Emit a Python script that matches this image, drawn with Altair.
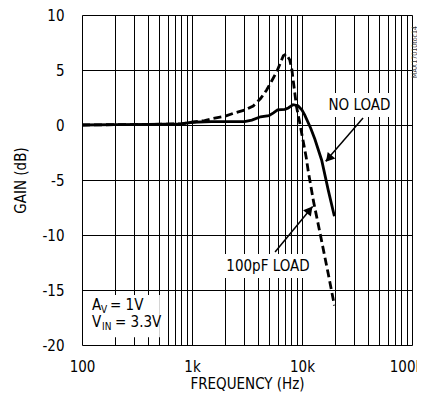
import altair as alt
import pandas as pd

# ---- data ----
freq_noload = [100, 200, 400, 800, 1000, 1500, 2000, 3000, 3500, 4200, 5000, 5500,
               6000, 7000, 7500, 8300, 9200, 10000, 10600, 12000, 13100, 15100, 17300, 19700]
gain_noload = [0.0, 0.03, 0.05, 0.1, 0.25, 0.3, 0.3, 0.3, 0.45, 0.75, 0.85, 1.1,
               1.38, 1.42, 1.55, 1.85, 1.75, 1.35, 0.9, -0.3, -1.3, -3.2, -5.9, -8.3]

freq_100pf = [100, 200, 400, 800, 1000, 1300, 1560, 2000, 2380, 3000, 3600, 4200, 4770,
              5300, 5900, 6400, 6770, 7160, 7750, 8100, 8600, 8900, 9500, 10000, 10900,
              11400, 12700, 14600, 17300, 19700]
gain_100pf = [0.0, 0.03, 0.05, 0.1, 0.25, 0.4, 0.6, 0.8, 1.06, 1.35, 1.73, 2.4, 3.18,
              4.0, 4.85, 5.7, 6.3, 6.45, 5.9, 5.0, 2.9, 1.7, 0.3, -0.9, -2.9,
              -4.2, -6.9, -9.85, -13.5, -16.4]

grid_freqs = [100, 200, 300, 400, 500, 600, 700, 800, 900,
              1000, 2000, 3000, 4000, 5000, 6000, 7000, 8000, 9000,
              10000, 20000, 30000, 40000, 50000, 60000, 70000, 80000, 90000, 100000]
gain_ticks = [-20, -15, -10, -5, 0, 5, 10]

# annotation labels
label_text = ["NO LOAD", "100pF LOAD"]
label_freq = [33300, 4910]
label_gain = [1.86, -12.82]

box_f1 = [16200, 1870, 105]
box_f2 = [70000, 12300, 510]
box_g1 = [2.9, -11.73, -15.45]
box_g2 = [0.73, -13.9, -19.3]

arrow_f1 = [35900, 5690]
arrow_g1 = [0.64, -11.55]
arrow_f2 = [16400, 12500]
arrow_g2 = [-3.3, -7.4]
head_f = [17500, 11750]
head_g = [-3.05, -7.72]
head_angle = [220, 39]

cond_text = ["A", "V", "= 1V", "V", "IN", "= 3.3V"]
cond_freq = [123.3, 148.8, 179.7, 123.3, 152.0, 199.6]
cond_gain = [-16.82, -17.09, -16.82, -18.36, -18.64, -18.36]
cond_size = [15, 10, 15, 15, 10, 15]

side_text = ["MAX17010toc14"]
side_freq = [106500]
side_gain = [6.64]

FONT = "DejaVu Sans Condensed"

xs = alt.Scale(type="log", domain=[100, 100000])
ys = alt.Scale(domain=[-20, 10])

xaxis = alt.Axis(
    values=grid_freqs,
    labelExpr="datum.value==100?'100':datum.value==1000?'1k':datum.value==10000?'10k':datum.value==100000?'100k':''",
    labelOffset={"condition": {"test": "datum.value == 100000", "value": -6}, "value": 0},
    title="FREQUENCY (Hz)", grid=True, ticks=False, domain=False,
    labelFontSize=15, labelPadding=14, labelOverlap=False, labelFlush=False,
    labelColor="black", titleColor="black", labelFont=FONT, titleFont=FONT,
    titleFontSize=15, titleFontWeight="normal", titleY=43, titleBaseline="alphabetic",
    gridColor="black", gridWidth=1, gridOpacity=1,
)
yaxis = alt.Axis(
    values=gain_ticks, labelExpr="'' + datum.value",
    title="GAIN (dB)", grid=True, ticks=False, domain=False,
    labelFontSize=15, labelPadding=18, labelOverlap=False, labelFlush=False,
    labelColor="black", titleColor="black", labelFont=FONT, titleFont=FONT,
    titleFontSize=15, titleFontWeight="normal", titleX=-62, titleY=165,
    titleAngle=270, titleAlign="center", titleBaseline="middle",
    gridColor="black", gridWidth=1, gridOpacity=1,
)

def X(f):
    return alt.X(f, type="quantitative", scale=xs, axis=xaxis)

def Y(f):
    return alt.Y(f, type="quantitative", scale=ys, axis=yaxis)

df_noload = pd.DataFrame({"f": freq_noload, "g": gain_noload})
df_100pf = pd.DataFrame({"f": freq_100pf, "g": gain_100pf})
df_box = pd.DataFrame({"f1": box_f1, "f2": box_f2, "g1": box_g1, "g2": box_g2})
df_lab = pd.DataFrame({"f": label_freq, "g": label_gain, "t": label_text})
df_arrow = pd.DataFrame({"f1": arrow_f1, "g1": arrow_g1, "f2": arrow_f2, "g2": arrow_g2})
df_head = pd.DataFrame({"f": head_f, "g": head_g, "a": head_angle})
df_cond = pd.DataFrame({"f": cond_freq, "g": cond_gain, "t": cond_text, "s": cond_size})
df_side = pd.DataFrame({"f": side_freq, "g": side_gain, "t": side_text})

boxes = alt.Chart(df_box).mark_rect(fill="white").encode(
    x=X("f1"), x2="f2", y=Y("g1"), y2="g2")

line_noload = alt.Chart(df_noload).mark_line(color="black", strokeWidth=2.8).encode(
    x=X("f"), y=Y("g"))
line_100pf = alt.Chart(df_100pf).mark_line(color="black", strokeWidth=2.8,
                                           strokeDash=[8, 4]).encode(x=X("f"), y=Y("g"))

labels = alt.Chart(df_lab).mark_text(font=FONT, fontSize=15, color="black",
                                     align="center", baseline="middle").encode(
    x=X("f"), y=Y("g"), text="t:N")

arrows = alt.Chart(df_arrow).mark_rule(color="black", strokeWidth=1.5).encode(
    x=X("f1"), y=Y("g1"), x2="f2", y2="g2")

heads = alt.Chart(df_head).mark_point(shape="triangle-up", filled=True, color="black",
                                      opacity=1, size=100).encode(
    x=X("f"), y=Y("g"), angle=alt.Angle("a:Q", scale=None))

cond = alt.Chart(df_cond).mark_text(font=FONT, color="black", align="left",
                                    baseline="alphabetic").encode(
    x=X("f"), y=Y("g"), text="t:N", size=alt.Size("s:Q", scale=None))

side = alt.Chart(df_side).mark_text(font=FONT, fontSize=7, color="#333333", angle=270,
                                    align="center", baseline="middle").encode(
    x=X("f"), y=Y("g"), text="t:N")

chart = alt.layer(boxes, line_noload, line_100pf, arrows, heads, labels, cond, side).properties(
    width=330, height=330,
    autosize=alt.AutoSizeParams(type="none"),
    padding={"left": 74, "top": 7, "right": 5, "bottom": 47},
).configure_view(stroke="black", strokeWidth=3).configure(font=FONT)

chart.save("out.html", embed_options={"renderer": "svg", "actions": False})
